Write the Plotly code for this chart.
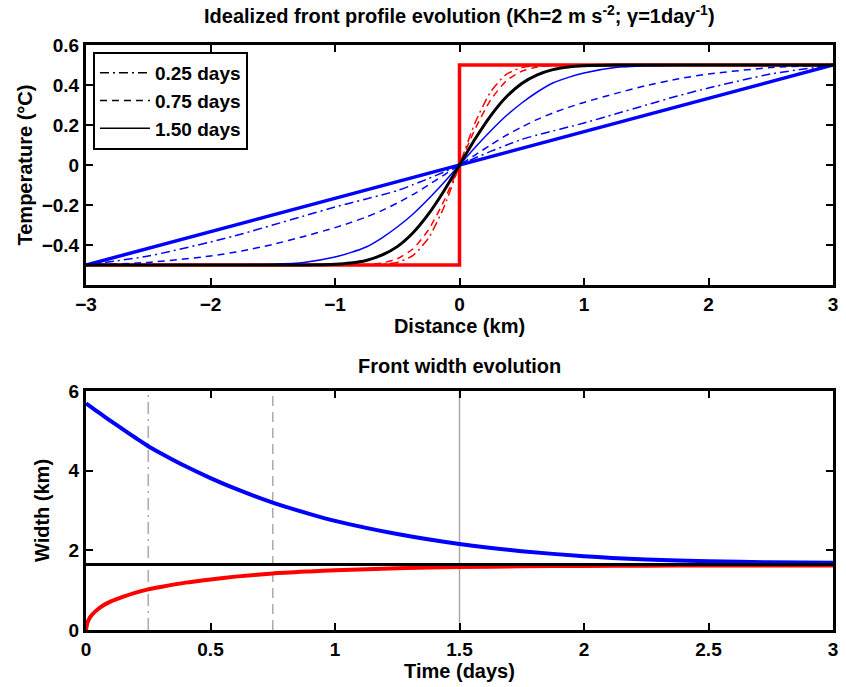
import plotly.graph_objects as go

# ---------------- data: top panel (temperature profiles) ----------------
dist_km = [-3, -2.5, -2, -1.75, -1.5, -1.25, -1, -0.875, -0.75, -0.625, -0.5, -0.375, -0.25, -0.125, 0,
           0.125, 0.25, 0.375, 0.5, 0.625, 0.75, 0.875, 1, 1.25, 1.5, 1.75, 2, 2.5, 3]

step_x = [-3, 0, 0, 3]
step_T = [-0.5, -0.5, 0.5, 0.5]

linear_x = [-3, 3]
linear_T = [-0.5, 0.5]

red_025 = [-0.5, -0.5, -0.5, -0.5, -0.5, -0.5, -0.5, -0.5, -0.4995, -0.497, -0.487, -0.453, -0.366, -0.211, 0,
           0.211, 0.366, 0.453, 0.487, 0.497, 0.4995, 0.5, 0.5, 0.5, 0.5, 0.5, 0.5, 0.5, 0.5]
red_075 = [-0.5, -0.5, -0.5, -0.5, -0.5, -0.5, -0.5, -0.4995, -0.4975, -0.49, -0.469, -0.42, -0.325, -0.18, 0,
           0.18, 0.325, 0.42, 0.469, 0.49, 0.4975, 0.4995, 0.5, 0.5, 0.5, 0.5, 0.5, 0.5, 0.5]
blue_025 = [-0.5, -0.455, -0.385, -0.345, -0.30, -0.255, -0.21, -0.19, -0.17, -0.15, -0.128, -0.099, -0.068, -0.035, 0,
            0.035, 0.068, 0.099, 0.128, 0.15, 0.17, 0.19, 0.21, 0.255, 0.30, 0.345, 0.385, 0.455, 0.5]
blue_075 = [-0.5, -0.487, -0.455, -0.43, -0.397, -0.357, -0.313, -0.288, -0.26, -0.228, -0.19, -0.148, -0.10, -0.05, 0,
            0.05, 0.10, 0.148, 0.19, 0.228, 0.26, 0.288, 0.313, 0.357, 0.397, 0.43, 0.455, 0.487, 0.5]
blue_150 = [-0.5, -0.5, -0.5, -0.499, -0.496, -0.487, -0.46, -0.438, -0.41, -0.365, -0.31, -0.246, -0.17, -0.0875, 0,
            0.0875, 0.17, 0.246, 0.31, 0.365, 0.41, 0.438, 0.46, 0.487, 0.496, 0.499, 0.5, 0.5, 0.5]
black_eq = [-0.5, -0.5, -0.5, -0.5, -0.5, -0.4995, -0.496, -0.49, -0.477, -0.451, -0.408, -0.34, -0.246, -0.13, 0,
            0.13, 0.246, 0.34, 0.408, 0.451, 0.477, 0.49, 0.496, 0.4995, 0.5, 0.5, 0.5, 0.5, 0.5]

legend_labels = ["0.25 days", "0.75 days", "1.50 days"]

# ---------------- data: bottom panel (front width) ----------------
time_days = [0, 0.005, 0.01, 0.02, 0.04, 0.07, 0.1, 0.15, 0.2, 0.25, 0.3, 0.4, 0.5, 0.6, 0.75, 0.9, 1.0,
             1.25, 1.5, 1.75, 2.0, 2.25, 2.5, 2.75, 3.0]
width_blue = [5.69, 5.667, 5.645, 5.60, 5.51, 5.378, 5.245, 5.03, 4.82, 4.615, 4.44, 4.11, 3.815, 3.55, 3.20, 2.91, 2.74,
              2.41, 2.16, 1.98, 1.85, 1.77, 1.725, 1.70, 1.69]
width_red = [0.0, 0.17, 0.25, 0.35, 0.48, 0.62, 0.72, 0.84, 0.94, 1.02, 1.08, 1.19, 1.27, 1.34, 1.42, 1.47, 1.50,
             1.55, 1.58, 1.60, 1.61, 1.615, 1.62, 1.62, 1.62]
eq_time = [0, 3]
eq_width = [1.645, 1.645]
marker_times = [0.25, 0.75, 1.5]
width_range = [0, 6]

# ---------------- figure ----------------
FONT = "Liberation Sans"
DASHDOT = "9px,4px,2px,4px"
DASH = "7px,5px"
GRAY_DASH = "10px,6px"
RED = "#ff0000"
BLUE = "#0000ff"

fig = go.Figure()

def add(x, y, color, width, dash="solid", shape="spline", xa="x", ya="y"):
    line = dict(color=color, width=width, dash=dash, shape=shape)
    if shape == "spline":
        line["smoothing"] = 0.6
    fig.add_trace(go.Scatter(x=x, y=y, mode="lines", xaxis=xa, yaxis=ya, line=line,
                             showlegend=False, hoverinfo="skip"))

# top panel
add(step_x, step_T, RED, 3.5, shape="linear")
add(dist_km, red_025, RED, 1.5, DASHDOT)
add(dist_km, red_075, RED, 1.5, DASH)
add(linear_x, linear_T, BLUE, 3.5, shape="linear")
add(dist_km, blue_025, BLUE, 1.5, DASHDOT)
add(dist_km, blue_075, BLUE, 1.5, DASH)
add(dist_km, blue_150, BLUE, 1.5)
add(dist_km, black_eq, "black", 3)

# legend-only entries
for lab, d in zip(legend_labels, [DASHDOT, DASH, "solid"]):
    fig.add_trace(go.Scatter(x=[None], y=[None], mode="lines", name=lab,
                             line=dict(color="black", width=1.5, dash=d), showlegend=True))

# bottom panel
for tm, d in zip(marker_times, ["12px,5px,2px,5px", GRAY_DASH, "solid"]):
    add([tm, tm], width_range, "#aaaaaa", 1.5, d, shape="linear", xa="x2", ya="y2")
add(time_days, width_blue, BLUE, 4, xa="x2", ya="y2")
add(time_days, width_red, RED, 4, xa="x2", ya="y2")
add(eq_time, eq_width, "black", 3, shape="linear", xa="x2", ya="y2")

tickfont = dict(family=FONT, size=19, color="black", weight="bold")
labfont = dict(family=FONT, size=20, color="black", weight="bold")

axis_common = dict(showline=True, linecolor="black", linewidth=3, mirror="ticks",
                   ticks="inside", ticklen=7, tickwidth=2, tickcolor="black",
                   showgrid=False, zeroline=False, tickfont=tickfont)

fig.update_layout(
    width=846, height=687,
    margin=dict(l=86, r=8, t=45, b=57),
    paper_bgcolor="white", plot_bgcolor="white",
    xaxis=dict(domain=[0, 1], anchor="y", range=[-3, 3], tickvals=[-3, -2, -1, 0, 1, 2, 3],
               ticktext=["−3", "−2", "−1", "0", "1", "2", "3"],
               title=dict(text="Distance (km)", font=labfont, standoff=4), **axis_common),
    yaxis=dict(domain=[0.5897, 1.0], anchor="x", range=[-0.6, 0.6],
               tickvals=[-0.4, -0.2, 0, 0.2, 0.4, 0.6],
               ticktext=["−0.4", "−0.2", "0", "0.2", "0.4", "0.6"],
               title=dict(text="Temperature (°C)", font=labfont, standoff=4), **axis_common),
    xaxis2=dict(domain=[0, 1], anchor="y2", range=[0, 3], tickvals=[0, 0.5, 1, 1.5, 2, 2.5, 3],
                ticktext=["0", "0.5", "1", "1.5", "2", "2.5", "3"],
                title=dict(text="Time (days)", font=labfont, standoff=4), **axis_common),
    yaxis2=dict(domain=[0.0, 0.4085], anchor="x2", range=width_range, tickvals=[0, 2, 4, 6],
                title=dict(text="Width (km)", font=labfont, standoff=14), **axis_common),
    legend=dict(x=0.0093, y=0.988, xanchor="left", yanchor="top", bgcolor="white",
                bordercolor="black", borderwidth=2,
                font=dict(family=FONT, size=19, color="black", weight="bold"),
                tracegroupgap=0, itemwidth=50),
    annotations=[
        dict(text="Idealized front profile evolution (Kh=2 m s<sup>-2</sup>; γ=1day<sup>-1</sup>)",
             xref="paper", yref="paper", x=0.5, y=1.0, yshift=16, xanchor="center", yanchor="bottom",
             showarrow=False, font=dict(family=FONT, size=20, color="black", weight="bold")),
        dict(text="Front width evolution", xref="paper", yref="paper", x=0.5, y=0.4085, yshift=12,
             xanchor="center", yanchor="bottom", showarrow=False,
             font=dict(family=FONT, size=20, color="black", weight="bold")),
    ],
)

fig.write_html("out.html")
